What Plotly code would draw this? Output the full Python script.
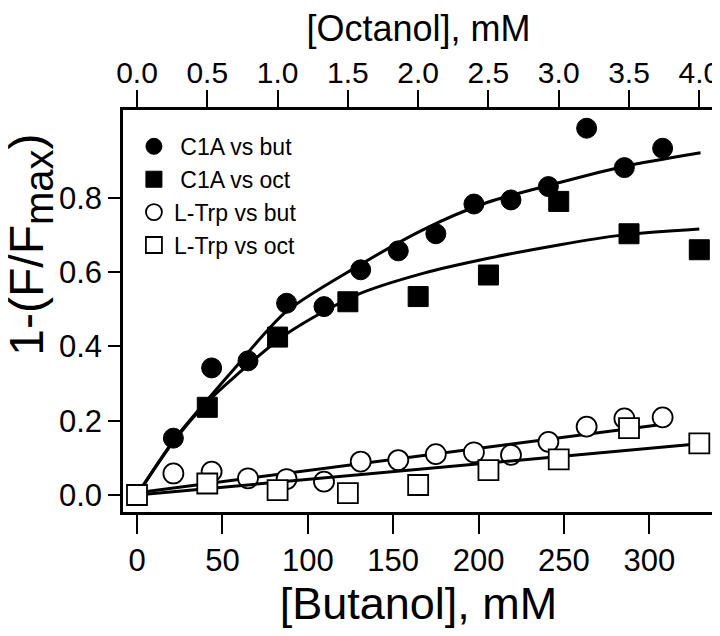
import plotly.graph_objects as go

# ---- data ----
but_x = [21.3, 43.7, 65.0, 87.6, 109.5, 131.0, 153.0, 175.0, 197.3, 219.0, 240.9, 263.3, 285.4, 307.8]
c1a_but_y = [0.153, 0.342, 0.361, 0.516, 0.507, 0.606, 0.657, 0.703, 0.783, 0.794, 0.830, 0.987, 0.881, 0.933]
trp_but_y = [0.058, 0.063, 0.045, 0.043, 0.036, 0.090, 0.094, 0.110, 0.115, 0.108, 0.143, 0.184, 0.206, 0.209]

oct_x_c1a = [0.5, 1.0, 1.5, 2.0, 2.5, 3.0, 3.5, 4.0]
c1a_oct_y = [0.236, 0.425, 0.520, 0.534, 0.592, 0.790, 0.703, 0.660]
oct_x_trp = [0.0, 0.5, 1.0, 1.5, 2.0, 2.5, 3.0, 3.5, 4.0]
trp_oct_y = [0.0, 0.031, 0.013, 0.005, 0.027, 0.067, 0.096, 0.180, 0.139]

# fitted curves
fit_but_x = [0, 22, 41, 57, 87, 129, 168, 205, 246, 285, 330]
fit_but_y = [0, 0.150, 0.255, 0.340, 0.492, 0.615, 0.715, 0.787, 0.839, 0.884, 0.921]
fit_oct_x = [0, 0.267, 0.5, 0.7, 1.07, 1.56, 2.04, 2.5, 3.0, 3.46, 4.0]
fit_oct_y = [0, 0.148, 0.250, 0.320, 0.435, 0.538, 0.597, 0.637, 0.673, 0.700, 0.716]
lin_but_x = [0, 307.2]
lin_but_y = [0.006, 0.190]
lin_oct_x = [0, 4.0]
lin_oct_y = [0.0, 0.138]

bottom_ticks = [0, 50, 100, 150, 200, 250, 300]
top_ticks = [0.0, 0.5, 1.0, 1.5, 2.0, 2.5, 3.0, 3.5, 4.0]
y_ticks = [0.0, 0.2, 0.4, 0.6, 0.8]

FONT = "Liberation Sans, Arial, sans-serif"
MS = 20
fig = go.Figure()

line_style = dict(color="black", width=3)
fig.add_trace(go.Scatter(x=fit_but_x, y=fit_but_y, mode="lines", line=dict(shape="spline", smoothing=0.8, **line_style),
                         showlegend=False, xaxis="x", yaxis="y"))
fig.add_trace(go.Scatter(x=fit_oct_x, y=fit_oct_y, mode="lines", line=dict(shape="spline", smoothing=0.8, **line_style),
                         showlegend=False, xaxis="x2", yaxis="y"))
fig.add_trace(go.Scatter(x=lin_but_x, y=lin_but_y, mode="lines", line=line_style, showlegend=False, xaxis="x", yaxis="y"))
fig.add_trace(go.Scatter(x=lin_oct_x, y=lin_oct_y, mode="lines", line=line_style, showlegend=False, xaxis="x2", yaxis="y"))

fig.add_trace(go.Scatter(x=but_x, y=c1a_but_y, mode="markers", name="\u00a0C1A vs but",
                         marker=dict(symbol="circle", size=MS, color="black", line=dict(color="black", width=1)),
                         xaxis="x", yaxis="y"))
fig.add_trace(go.Scatter(x=oct_x_c1a, y=c1a_oct_y, mode="markers", name="\u00a0C1A vs oct",
                         marker=dict(symbol="square", size=MS, color="black", line=dict(color="black", width=1)),
                         xaxis="x2", yaxis="y"))
fig.add_trace(go.Scatter(x=but_x, y=trp_but_y, mode="markers", name="L-Trp vs but",
                         marker=dict(symbol="circle", size=MS, color="white", line=dict(color="black", width=1.8)),
                         xaxis="x", yaxis="y"))
fig.add_trace(go.Scatter(x=oct_x_trp, y=trp_oct_y, mode="markers", name="L-Trp vs oct",
                         marker=dict(symbol="square", size=MS, color="white", line=dict(color="black", width=1.8)),
                         xaxis="x2", yaxis="y"))

# the page has an 8px body margin, so the figure is drawn 8px smaller
fig.update_layout(
    width=712, height=628,
    margin=dict(l=115, r=6, t=102, b=124),
    paper_bgcolor="white", plot_bgcolor="white",
    font=dict(family=FONT, color="black", size=30),
    showlegend=True,
    legend=dict(x=0.0185, y=0.963, xanchor="left", yanchor="top", bgcolor="rgba(0,0,0,0)",
                font=dict(size=23, family=FONT), itemsizing="trace", tracegroupgap=0),
    xaxis=dict(range=[-8.20, 337.89], tickvals=bottom_ticks, ticks="outside", ticklen=19, tickwidth=2,
               tickcolor="black", showline=True, linecolor="black", linewidth=2.5, mirror=False,
               showgrid=False, zeroline=False, tickfont=dict(size=31), automargin=False,
               title=dict(text="[Butanol], mM", font=dict(size=45), standoff=10)),
    xaxis2=dict(range=[-0.0996, 4.1045], tickvals=top_ticks, tickformat=".1f", overlaying="x", side="top",
                anchor="y", ticks="outside", ticklen=17, tickwidth=2, tickcolor="black", showline=True,
                linecolor="black", linewidth=2.5, showgrid=False, zeroline=False, tickfont=dict(size=30),
                automargin=False, ticklabelstandoff=-5, ticklabeloverflow="allow",
                title=dict(text="[Octanol], mM", font=dict(size=36), standoff=6)),
    yaxis=dict(range=[-0.0457, 1.036], tickvals=y_ticks, tickformat=".1f", ticks="outside", ticklen=12,
               tickwidth=2, tickcolor="black", showline=True, linecolor="black", linewidth=2.5, mirror=True,
               showgrid=False, zeroline=False, tickfont=dict(size=31), automargin=False),
    annotations=[dict(text="1-(F/F<sub><span style='font-size:40px'>max</span></sub>)", textangle=-90,
                      xref="paper", yref="paper", x=-0.158, y=0.664, xanchor="center", yanchor="middle",
                      showarrow=False, font=dict(size=48, family=FONT, color="black"))],
)

fig.write_html("out.html")
